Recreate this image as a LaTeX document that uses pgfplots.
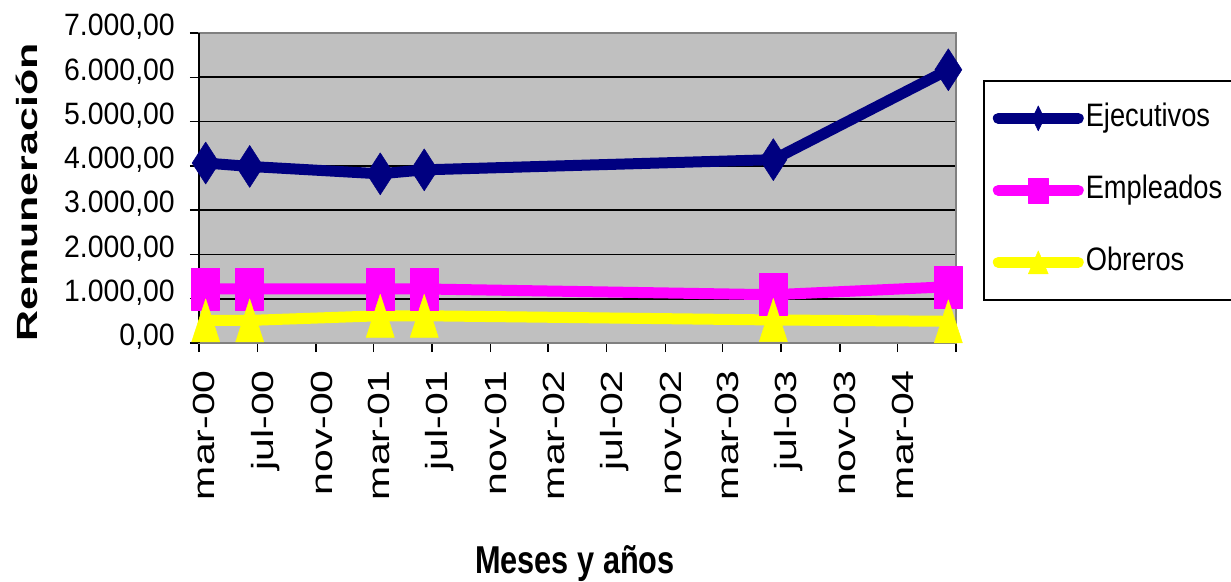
\documentclass[border=0pt]{standalone}
\usepackage{fontspec}
\setmainfont{Liberation Sans}
\newfontfamily\tickfont[FakeStretch=0.92]{Liberation Sans}
\newfontfamily\rotfont[FakeStretch=1.34]{Liberation Sans}
\newfontfamily\legfont[FakeStretch=0.84]{Liberation Sans}
\newfontfamily\ylabfont[FakeStretch=1.47]{Liberation Sans}
\newfontfamily\xlabfont[FakeStretch=0.79]{Liberation Sans}
\usepackage{pgfplots}
\pgfplotsset{compat=1.18}
\definecolor{navyc}{HTML}{000080}
\definecolor{magc}{HTML}{FF00FF}
\definecolor{yelc}{HTML}{FFFF00}
\definecolor{bgc}{HTML}{C0C0C0}
\begin{document}
\begin{tikzpicture}
\useasboundingbox (0,0) rectangle (1231bp,582bp);
\begin{axis}[
  at={(199bp,239bp)}, anchor=south west,
  scale only axis, width=757bp, height=310bp,
  xmin=0, xmax=1583, ymin=0, ymax=7000,
  clip=false,
  axis background/.style={fill=bgc},
  axis line style={draw=gray, line width=1.2bp},
  xtick={0,122,245,365,487,610,730,852,975,1095,1217,1340,1461,1583},
  xticklabels={mar-00,jul-00,nov-00,mar-01,jul-01,nov-01,mar-02,jul-02,nov-02,mar-03,jul-03,nov-03,mar-04,{}},
  ytick={0,1000,2000,3000,4000,5000,6000,7000},
  yticklabels={{0,00},{1.000,00},{2.000,00},{3.000,00},{4.000,00},{5.000,00},{6.000,00},{7.000,00}},
  ymajorgrids, major grid style={black, line width=1.8bp},
  tick align=outside, tick pos=left, major tick length=9bp,
  tick style={black, line width=1.5bp},
  xticklabel style={font=\rotfont\fontsize{30.7}{31}\selectfont, inner sep=0pt, xshift=16bp, yshift=-18bp, rotate=90, anchor=base east},
  yticklabel style={font=\tickfont\fontsize{31}{31}\selectfont, inner sep=0pt, anchor=east, xshift=-15bp, yshift=6bp},
  every axis y label/.style={at={(axis description cs:-0.2127,0.4855)}, rotate=90, anchor=base, inner sep=0pt, font=\ylabfont\bfseries\fontsize{29.3}{30}\selectfont},
  every axis x label/.style={at={(axis description cs:0.4967,-0.742)}, anchor=base, inner sep=0pt, font=\xlabfont\bfseries\fontsize{39}{40}\selectfont},
  ylabel={Remuneración},
  xlabel={Meses y años},
  legend style={at={(axis description cs:1.0357,0.848)}, anchor=north west, draw=black, line width=1.5bp, fill=white, inner xsep=9bp, inner ysep=22bp, row sep=41bp, column sep=2bp, font=\legfont\fontsize{32.6}{33}\selectfont, nodes={inner sep=0pt, text height=24bp, text depth=7bp}},
  legend cell align=left,
]
\addplot[navyc, line width=11bp, line join=round, mark=diamond*, mark size=21bp, mark options={solid, line width=0.5bp, xscale=0.86},
  legend image code/.code={\draw[navyc, line width=11bp, line cap=round] (0bp,0bp) -- (80bp,0bp); \draw[navyc, fill=navyc, line width=0.5bp, mark=diamond*, mark size=12.5bp, mark options={xscale=0.64}] plot coordinates {(40bp,0bp)};}]
  coordinates {(14,4064) (106,3987) (379,3820) (471,3910) (1201,4140) (1567,6170)};
\addlegendentry{Ejecutivos}
\addplot[magc, line width=11bp, line join=round, mark=square*, mark size=21bp, mark options={solid, line width=0.5bp, xscale=0.667},
  legend image code/.code={\draw[magc, line width=11bp, line cap=round] (0bp,0bp) -- (80bp,0bp); \draw[magc, fill=magc, line width=0.5bp, mark=square*, mark size=12.5bp, mark options={xscale=0.8}] plot coordinates {(40bp,0bp)};}]
  coordinates {(14,1220) (106,1220) (379,1220) (471,1220) (1201,1090) (1567,1270)};
\addlegendentry{Empleados}
\addplot[yelc, line width=11bp, line join=round, mark=triangle*, mark size=28.7bp, mark options={solid, line width=0.5bp, yshift=-7.2bp, xscale=0.565},
  legend image code/.code={\draw[yelc, line width=11bp, line cap=round] (0bp,0bp) -- (80bp,0bp); \draw[yelc, fill=yelc, line width=0.5bp, mark=triangle*, mark size=15.3bp, mark options={yshift=-3.8bp, xscale=0.75}] plot coordinates {(40bp,0bp)};}]
  coordinates {(14,510) (106,510) (379,615) (471,615) (1201,520) (1567,490)};
\addlegendentry{Obreros}
\draw[black, line width=2bp] (rel axis cs:0,0) -- (rel axis cs:0,1);
\end{axis}
\end{tikzpicture}
\end{document}
